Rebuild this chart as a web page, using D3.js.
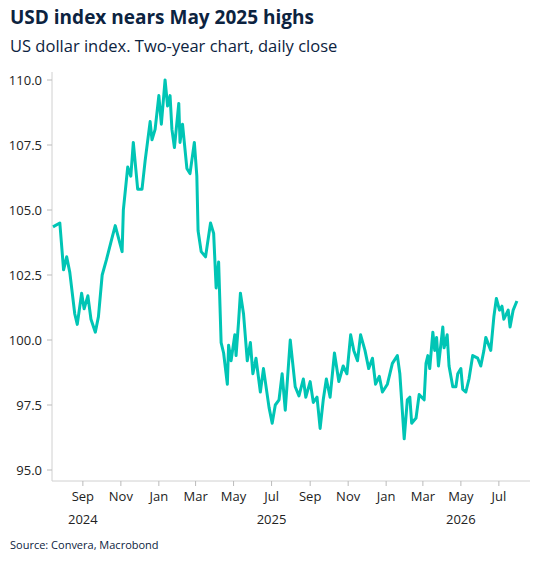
<!DOCTYPE html>
<html><head><meta charset="utf-8">
<script src="https://cdn.jsdelivr.net/npm/d3@7/dist/d3.min.js"></script>
<style>body{margin:0;background:#fff;font-family:"Open Sans",Lato,sans-serif}</style>
</head><body><svg id="c" width="549" height="562"></svg>
<script>
const startDate = "2024-07-15";
const dayOffsets = [0,11,17,22,27,35,39,46,50,56,61,68,73,79,86,94,100,111,113,120,125,129,136,143,148,156,159,164,170,174,180,184,188,191,195,202,204,208,215,220,227,231,233,238,245,253,258,262,266,270,274,280,282,286,292,294,298,301,306,312,317,321,326,333,338,347,352,357,363,368,373,381,389,395,402,406,413,418,424,429,434,439,445,452,459,466,472,478,483,489,494,501,507,513,518,524,529,537,545,553,557,564,569,573,576,583,588,596,599,602,605,610,613,616,619,626,628,633,636,642,647,650,655,658,663,668,674,682,687,692,695,703,708,712,717,721,724,731,734,739,745];
const values = [104.35,104.5,102.7,103.2,102.6,101.0,100.6,101.8,101.2,101.7,100.8,100.3,100.9,102.5,103.1,103.85,104.4,103.4,105.0,106.65,106.3,107.6,105.8,105.8,106.9,108.4,107.7,108.1,109.4,108.3,110.0,109.0,109.4,108.1,107.4,109.1,107.6,108.3,106.6,106.4,107.6,106.3,104.2,103.4,103.2,104.5,104.1,102.0,103.0,99.9,99.5,98.3,99.8,99.2,100.2,99.4,100.7,101.8,101.0,99.2,99.9,98.7,99.3,98.0,98.9,97.4,96.8,97.5,97.7,98.7,97.3,100.0,98.2,97.85,98.5,97.8,98.4,97.6,97.8,96.6,97.7,98.5,97.8,99.5,98.4,99.0,98.7,100.2,99.6,99.2,100.2,99.6,98.9,99.3,98.3,98.6,98.0,98.3,99.1,99.4,98.7,96.2,97.7,97.8,96.8,97.0,97.9,97.7,99.1,99.4,98.9,100.3,99.6,100.1,99.0,100.5,99.7,100.2,99.0,98.2,98.2,98.7,98.9,98.1,98.0,98.5,99.4,99.3,99.0,99.6,100.1,99.6,100.9,101.6,101.15,101.3,100.8,101.15,100.5,101.15,101.5];
const yTicks = [95,97.5,100,102.5,105,107.5,110];
const monthLabels = ["Sep","Nov","Jan","Mar","May","Jul","Sep","Nov","Jan","Mar","May","Jul"];
const yearLabels = [{month:"2024-09-01",label:"2024"},{month:"2025-07-01",label:"2025"},{month:"2026-05-01",label:"2026"}];

const svg = d3.select("#c");
const navy = "#0c2340";
const p0 = d3.timeParse("%Y-%m-%d");
const s0 = p0(startDate);
const data = dayOffsets.map((d,i)=>({date:d3.timeDay.offset(s0,d), v:values[i]}));
const x = d3.scaleTime().domain([p0("2024-07-07"), p0("2026-08-20")]).range([48,530]);
const y = d3.scaleLinear().domain([95,110]).range([470,80]);

svg.append("text").attr("x",10).attr("y",24).attr("font-size",19).attr("font-weight",700).attr("fill",navy).text("USD index nears May 2025 highs");
svg.append("text").attr("x",10).attr("y",52).attr("font-size",16.5).attr("fill",navy).text("US dollar index. Two-year chart, daily close");

// y axis
svg.append("line").attr("x1",52).attr("x2",52).attr("y1",72).attr("y2",481).attr("stroke","#d0d0d0");
const yg = svg.append("g");
yTicks.forEach(t=>{
  yg.append("line").attr("x1",47).attr("x2",52).attr("y1",y(t)).attr("y2",y(t)).attr("stroke","#bbb");
  yg.append("text").attr("x",42).attr("y",y(t)+4.5).attr("text-anchor","end").attr("font-size",13).attr("fill","#222").text(d3.format(".1f")(t));
});
// x axis
svg.append("line").attr("x1",52).attr("x2",530).attr("y1",481).attr("y2",481).attr("stroke","#d0d0d0");
const months = d3.timeMonth.every(2).range(p0("2024-09-01"), p0("2026-08-01"));
months.forEach((m,i)=>{
  svg.append("line").attr("x1",x(m)).attr("x2",x(m)).attr("y1",481).attr("y2",486).attr("stroke","#bbb");
  svg.append("text").attr("x",x(m)).attr("y",501).attr("text-anchor","middle").attr("font-size",13).attr("fill","#222").text(monthLabels[i]);
});
yearLabels.forEach(o=>{
  svg.append("text").attr("x",x(p0(o.month))).attr("y",524).attr("text-anchor","middle").attr("font-size",13).attr("fill","#222").text(o.label);
});

svg.append("path").datum(data).attr("fill","none").attr("stroke","#00c5b5").attr("stroke-width",3).attr("stroke-linejoin","round")
  .attr("d",d3.line().x(d=>x(d.date)).y(d=>y(d.v)));

svg.append("text").attr("x",10).attr("y",549).attr("font-size",11).attr("fill",navy).text("Source: Convera, Macrobond");
</script></body></html>
